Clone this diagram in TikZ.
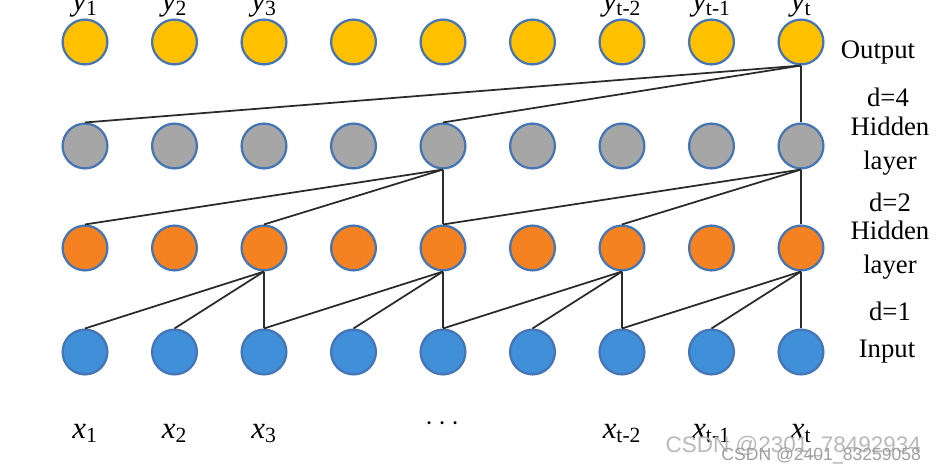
\documentclass[tikz,border=0pt]{standalone}
\usepackage{fontspec}
\setmainfont{Liberation Serif}
\newfontfamily\wmfont{Liberation Sans}
\definecolor{outfill}{HTML}{FFC000}
\definecolor{deepfill}{HTML}{A6A6A6}
\definecolor{hidfill}{HTML}{F58220}
\definecolor{infill}{HTML}{3F8FD9}
\definecolor{rim}{HTML}{4575B4}
\definecolor{link}{HTML}{2B2B2B}
\newcommand{\seqlab}[2]{\textit{#1}\textsubscript{#2}}
\begin{document}
\begin{tikzpicture}[x=0.025cm, y=-0.025cm, font=\fontsize{19}{23}\selectfont,
  unit/.style={circle, draw=rim, line width=1.6pt, minimum size=1.12cm, inner sep=0pt},
  tap/.style={draw=link, line width=1.25pt},
  side/.style={align=center, font=\fontsize{19}{24}\selectfont},
  seq/.style={anchor=base, font=\fontsize{22}{22}\selectfont}]
\useasboundingbox (0,0) rectangle (943,472);

% the four rows of units, columns 1..9
\foreach \i in {1,...,9}{
  \node[unit, fill=outfill]  (y\i) at ({85+89.5*(\i-1)},42)  {};
  \node[unit, fill=deepfill] (b\i) at ({85+89.5*(\i-1)},146) {};
  \node[unit, fill=hidfill]  (a\i) at ({85+89.5*(\i-1)},248) {};
  \node[unit, fill=infill]   (x\i) at ({85+89.5*(\i-1)},352) {};
}

% dilation 1: input -> first hidden layer
\foreach \u/\v in {3/1,3/2,3/3,5/3,5/4,5/5,7/5,7/6,7/7,9/7,9/8,9/9}
  \draw[tap] (a\u.south) -- (x\v.north);
% dilation 2: first -> second hidden layer
\foreach \u/\v in {5/1,5/3,5/5,9/5,9/7,9/9}
  \draw[tap] (b\u.south) -- (a\v.north);
% dilation 4: second hidden layer -> output
\foreach \v in {1,5,9}
  \draw[tap] (y9.south) -- (b\v.north);

% output labels (cut by the top edge)
\foreach \i/\lab in {1/1,2/2,3/3,7/t-2,8/t-1,9/t}
  \node[seq] (ly\i) at ({85+89.5*(\i-1)},11) {\seqlab{y}{\lab}};
\node[seq] (lydots) at (443,2) {$\cdots$};

% input labels
\foreach \i/\lab in {1/1,2/2,3/3,7/t-2,8/t-1,9/t}
  \node[seq] (lx\i) at ({85+89.5*(\i-1)},438) {\seqlab{x}{\lab}};
\node[seq] (lxdots) at (443,430) {$\cdots$};

% layer names on the right
\node[side] (nout) at (878,53)  {Output};
\node[side] (nd4)  at (888,97)  {d=4};
\node[side] (nhb)  at (890,146) {Hidden\\layer};
\node[side] (nd2)  at (890,202) {d=2};
\node[side] (nha)  at (890,250) {Hidden\\layer};
\node[side] (nd1)  at (890,311) {d=1};
\node[side] (nin)  at (887,352) {Input};

% watermark
\node[anchor=east, gray!55, font=\wmfont\fontsize{16}{16}\selectfont] (wm1) at (926,447) {CSDN @2301\_78492934};
\node[anchor=east, gray!75, font=\wmfont\fontsize{12.5}{12.5}\selectfont] (wm2) at (926,456) {CSDN @2401\_83259058};
\end{tikzpicture}
\end{document}
